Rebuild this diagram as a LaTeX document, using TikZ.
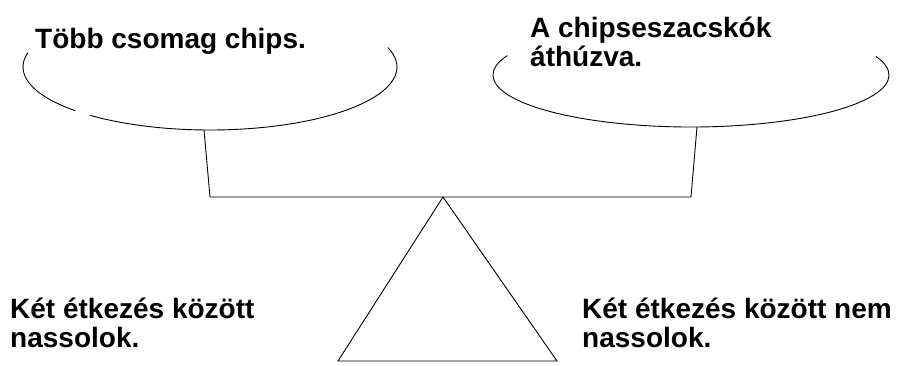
\documentclass[tikz,border=0pt]{standalone}
\usepackage{fontspec}
\setmainfont{Liberation Sans}
\usepackage{xcolor}
\definecolor{ink}{HTML}{000000}
\makeatletter
\renewcommand\small{%
  \@setfontsize\small{28pt}{29pt}%
}
\makeatother

\begin{document}
\begin{tikzpicture}[x=1pt, y=-1pt, every node/.style={font=\small\bfseries, inner sep=0pt, align=left, anchor=base west}, beam/.style={draw=ink, line width=0.9pt}]
  \useasboundingbox (0,0) rectangle (898,365);
  % pans
  \coordinate (lpan) at (210,67);
  \coordinate (rpan) at (691,75);
  \draw[beam] (lpan) ++(193:187 and 63) arc[start angle=193, end angle=136, x radius=187, y radius=63];
  \draw[beam] (lpan) ++(130:187 and 63) arc[start angle=130, end angle=-18, x radius=187, y radius=63];
  \draw[beam] (rpan) ++(202:198 and 52) arc[start angle=202, end angle=-21, x radius=198, y radius=52];
  % beam and hangers
  \coordinate (lhook) at (204,130);
  \coordinate (rhook) at (697,127);
  \coordinate (lend) at (210,197);
  \coordinate (rend) at (691,197);
  \draw[beam] (lhook) -- (lend) -- (rend) -- (rhook);
  % stand
  \coordinate (apex) at (443,197);
  \coordinate (lfoot) at (338,361);
  \coordinate (rfoot) at (557,361);
  \draw[beam] (apex) -- (lfoot) -- (rfoot) -- cycle;
  % labels (base = last line)
  \node (chips) at (35,48) {Több csomag chips.};
  \node (crossed) at (530,66) {A chipseszacskók\\áthúzva.};
  \node (snack) at (10,347) {Két étkezés között\\nassolok.};
  \node (nosnack) at (582,347) {Két étkezés között nem\\nassolok.};
\end{tikzpicture}
\end{document}
